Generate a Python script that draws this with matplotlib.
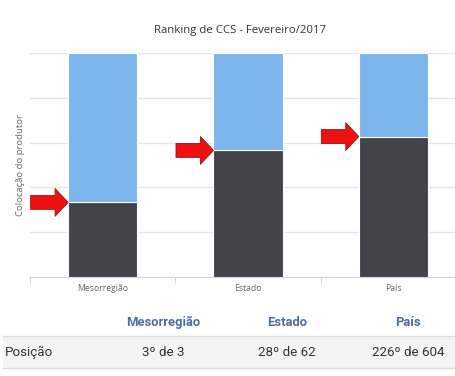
import matplotlib.pyplot as plt
from matplotlib.patches import Rectangle

# dados do ranking
categorias = ['Mesorregião', 'Estado', 'País']
posicao = [3, 28, 226]
total = [3, 62, 604]
# parte escura = produtores atrás (inclusive), em %
escuro = [33.3, 56.5, 62.7]
claro = [66.7, 43.5, 37.3]
linhas_tabela = ['3º de 3', '28º de 62', '226º de 604']

cor_claro = '#7cb5ec'
cor_escuro = '#434348'
fonte = 'Open Sans'

fig = plt.figure(figsize=(4.56, 3.76), dpi=100)
ax = fig.add_axes([30 / 456, 99 / 376, 436 / 456, 224 / 376])

x = range(len(categorias))
ax.bar(x, escuro, width=0.475, color=cor_escuro, edgecolor='white', linewidth=0.8, zorder=3)
ax.bar(x, claro, width=0.475, bottom=escuro, color=cor_claro, edgecolor='white', linewidth=0.8, zorder=3)

# setas vermelhas
for i, v in enumerate(escuro):
    ax.annotate('', xy=(i - 0.475 / 2, v), xytext=(-27, 0), textcoords='offset points',
                arrowprops=dict(arrowstyle='simple,head_length=0.47,head_width=1.0,tail_width=0.5',
                                mutation_scale=20, fc='#ee1111', ec='#991111', lw=0.6,
                                shrinkA=0, shrinkB=0), zorder=5)

ax.set_xlim(-0.5, 2.5)
ax.set_ylim(0, 100)
ax.set_yticks([0, 20, 40, 60, 80, 100])
ax.set_yticklabels([])
ax.tick_params(axis='y', length=0)
ax.grid(axis='y', color='#e6e6e6', linewidth=1, zorder=0)
ax.set_xticks(list(x))
ax.set_xticklabels(categorias, fontsize=6.2, color='#666666', family=fonte)
ax.tick_params(axis='x', which='major', length=0, pad=5)
ax.set_xticks([-0.5, 0.5, 1.5, 2.5], minor=True)
ax.tick_params(axis='x', which='minor', length=4.5, color='#ccd6eb', width=0.8)
for s in ['top', 'right', 'left']:
    ax.spines[s].set_visible(False)
ax.spines['bottom'].set_color('#ccd6eb')
ax.set_ylabel('Colocação do produtor', fontsize=6.8, color='#666666', family=fonte)
ax.yaxis.set_label_coords(-0.012, 0.5)

fig.text(240 / 456, 1 - 31 / 376, 'Ranking de CCS - Fevereiro/2017', ha='center', va='center',
         fontsize=8.2, color='#333333', family=fonte)

# tabela abaixo do gráfico
xs = [163, 287, 408]
for xi, cat in zip(xs, categorias):
    fig.text(xi / 456, 1 - 322 / 376, cat, ha='center', va='center', fontsize=9.4,
             fontweight='bold', color='#4e6d9c', family='Roboto')
fig.patches.append(Rectangle((3 / 456, 1 - 368 / 376), 453 / 456, 32 / 376,
                             transform=fig.transFigure, facecolor='#f4f4f4',
                             edgecolor='none', zorder=0))
for yy in [336, 368]:
    fig.add_artist(plt.Line2D([3 / 456, 1], [1 - yy / 376] * 2, transform=fig.transFigure,
                              color='#dddddd', linewidth=1))
fig.text(5 / 456, 1 - 352 / 376, 'Posição', ha='left', va='center', fontsize=9.6,
         color='#333333', family='Roboto')
for xi, t in zip(xs, linhas_tabela):
    fig.text(xi / 456, 1 - 352 / 376, t, ha='center', va='center', fontsize=9.6,
             color='#333333', family='Roboto')

fig.savefig('out.png', dpi=100)
